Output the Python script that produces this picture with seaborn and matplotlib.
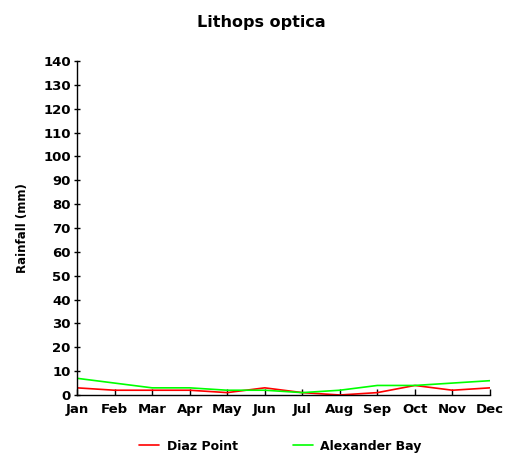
import matplotlib
matplotlib.use("Agg")
import matplotlib.pyplot as plt
import seaborn as sns
import pandas as pd
from matplotlib.lines import Line2D

months = ["Jan", "Feb", "Mar", "Apr", "May", "Jun", "Jul", "Aug", "Sep", "Oct", "Nov", "Dec"]
diaz_point = [3, 2, 2, 2, 1, 3, 1, 0, 1, 4, 2, 3]
alexander_bay = [7, 5, 3, 3, 2, 2, 1, 2, 4, 4, 5, 6]
series_names = ["Diaz Point", "Alexander Bay"]
series_colors = ["#ff0000", "#00ff00"]
yticks = list(range(0, 141, 10))

sns.set_theme(style="white")
plt.rcParams['font.family'] = ['DejaVu Sans']
plt.rcParams['font.weight'] = 'bold'
for k in ['text.color', 'axes.labelcolor', 'xtick.color', 'ytick.color', 'xtick.labelcolor', 'ytick.labelcolor']:
    plt.rcParams[k] = 'black'

df = pd.DataFrame({
    "pos": list(range(12)) * 2,
    "value": diaz_point + alexander_bay,
    "series": [series_names[0]] * 12 + [series_names[1]] * 12,
})

fig = plt.figure(figsize=(5.22, 4.69), dpi=100)
ax = fig.add_axes([77 / 522, (469 - 395) / 469, 413 / 522, (395 - 61) / 469])
sns.lineplot(data=df, x="pos", y="value", hue="series", palette=series_colors,
             hue_order=series_names, ax=ax, linewidth=1.2, legend=False)

ax.set_xlim(0, 11)
ax.set_ylim(0, 140)
ax.set_xticks(range(12))
ax.set_xticklabels(months, fontsize=9.5, fontweight='bold', color='black')
ax.set_yticks(yticks)
ax.set_yticklabels([str(v) for v in yticks], fontsize=9.5, fontweight='bold', color='black')
ax.tick_params(axis='x', direction='in', length=4, width=1, color='black', pad=6)
ax.tick_params(axis='y', direction='inout', length=5, width=1, color='black', pad=2)
ax.tick_params(bottom=True, left=True)
for s in ["top", "right"]:
    ax.spines[s].set_visible(False)
for s in ["left", "bottom"]:
    ax.spines[s].set_color("black")
    ax.spines[s].set_linewidth(1)
ax.set_xlabel("")
ax.set_ylabel("Rainfall (mm)", fontsize=8.5, fontweight='bold', color='black')
ax.yaxis.set_label_coords(-48 / 413, 0.5)

fig.text(0.5, 1 - 22 / 469, "Lithops optica", ha='center', va='center', fontsize=11.5,
         fontweight='bold', color='black')

handles = [Line2D([0], [0], color=c, lw=1.2) for c in series_colors]
leg = fig.legend(handles, series_names, loc='center left', bbox_to_anchor=(133 / 522, 1 - 446 / 469),
                 ncol=2, frameon=False, prop={'weight': 'bold', 'size': 9},
                 handlelength=1.6, columnspacing=4.4, handletextpad=0.6, borderpad=0,
                 labelcolor='black')

fig.savefig("out.png", dpi=100)
